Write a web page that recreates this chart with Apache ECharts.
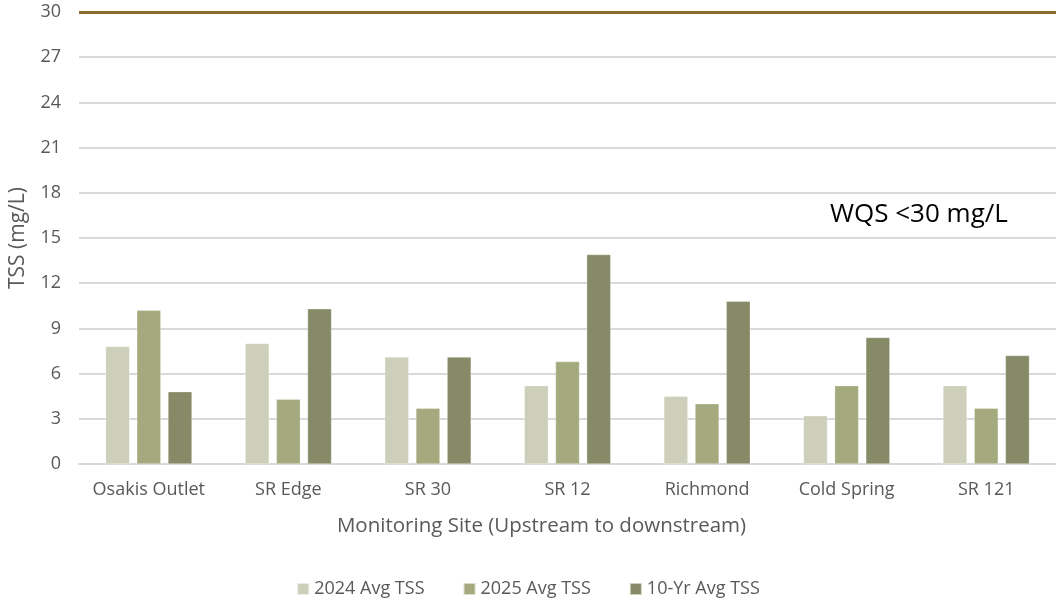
<!DOCTYPE html>
<html><head><meta charset="utf-8">
<script src="https://cdn.jsdelivr.net/npm/echarts@6/dist/echarts.min.js"></script>
<style>html,body{margin:0;padding:0;background:#fff}#c{width:1056px;height:601px}</style>
</head><body><div id="c"></div>
<script>
const sites = ['Osakis Outlet','SR Edge','SR 30','SR 12','Richmond','Cold Spring','SR 121'];
const avg2024 = [7.8, 8.0, 7.1, 5.2, 4.5, 3.2, 5.2];
const avg2025 = [10.2, 4.3, 3.7, 6.8, 4.0, 5.2, 3.7];
const avg10yr = [4.8, 10.3, 7.1, 13.9, 10.8, 8.4, 7.2];
const wqsLimit = 30;
const seriesNames = ['2024 Avg TSS','2025 Avg TSS','10-Yr Avg TSS'];
const colors = ['#CDCFBA','#A5AA7E','#878A66'];
const font = '"Open Sans", "Noto Sans", sans-serif';

const chart = echarts.init(document.getElementById('c'), null, {renderer:'canvas'});
const mk = (name, data, color, extra) => Object.assign({
  name, type:'bar', data, barWidth:24, barGap:'30%',
  itemStyle:{color, borderColor:'rgba(255,255,255,0.6)', borderWidth:0.5},
  emphasis:{disabled:true}
}, extra||{});
chart.setOption({
  animation:false,
  textStyle:{fontFamily:font},
  grid:{left:78, right:0, top:12, bottom:137},
  legend:{
    top:579, left:'center', padding:0, itemWidth:12, itemHeight:12, itemGap:38,
    icon:'rect',
    textStyle:{fontSize:18, color:'#595959', fontFamily:font, lineHeight:20}
  },
  xAxis:{
    type:'category', data:sites,
    axisTick:{show:false},
    axisLine:{lineStyle:{color:'#D9D9D9', width:2}},
    axisLabel:{fontSize:18, color:'#595959', margin:17, fontFamily:font, interval:0},
    name:'Monitoring Site (Upstream to downstream)',
    nameLocation:'middle', nameGap:52,
    nameTextStyle:{fontSize:20.5, color:'#595959', fontFamily:font, padding:[0,52,0,0]}
  },
  yAxis:{
    type:'value', min:0, max:30, interval:3,
    axisLine:{show:false}, axisTick:{show:false},
    splitLine:{lineStyle:{color:'#D9D9D9', width:2}},
    axisLabel:{fontSize:18, color:'#595959', margin:18, fontFamily:font},
    name:'TSS (mg/L)', nameLocation:'middle', nameGap:50,
    nameTextStyle:{fontSize:21, color:'#595959', fontFamily:font}
  },
  series:[
    mk(seriesNames[0], avg2024, colors[0]),
    mk(seriesNames[1], avg2025, colors[1], {
      markLine:{
        silent:true, symbol:'none',
        label:{show:false},
        lineStyle:{color:'#8B6B2B', width:3, type:'solid'},
        data:[{yAxis:wqsLimit}]
      }
    }),
    mk(seriesNames[2], avg10yr, colors[2])
  ],
  graphic:[{
    type:'text', left:830, top:202,
    style:{text:'WQS <30 mg/L', fontSize:26, fontFamily:font, fill:'#000'}
  }]
});
</script></body></html>
